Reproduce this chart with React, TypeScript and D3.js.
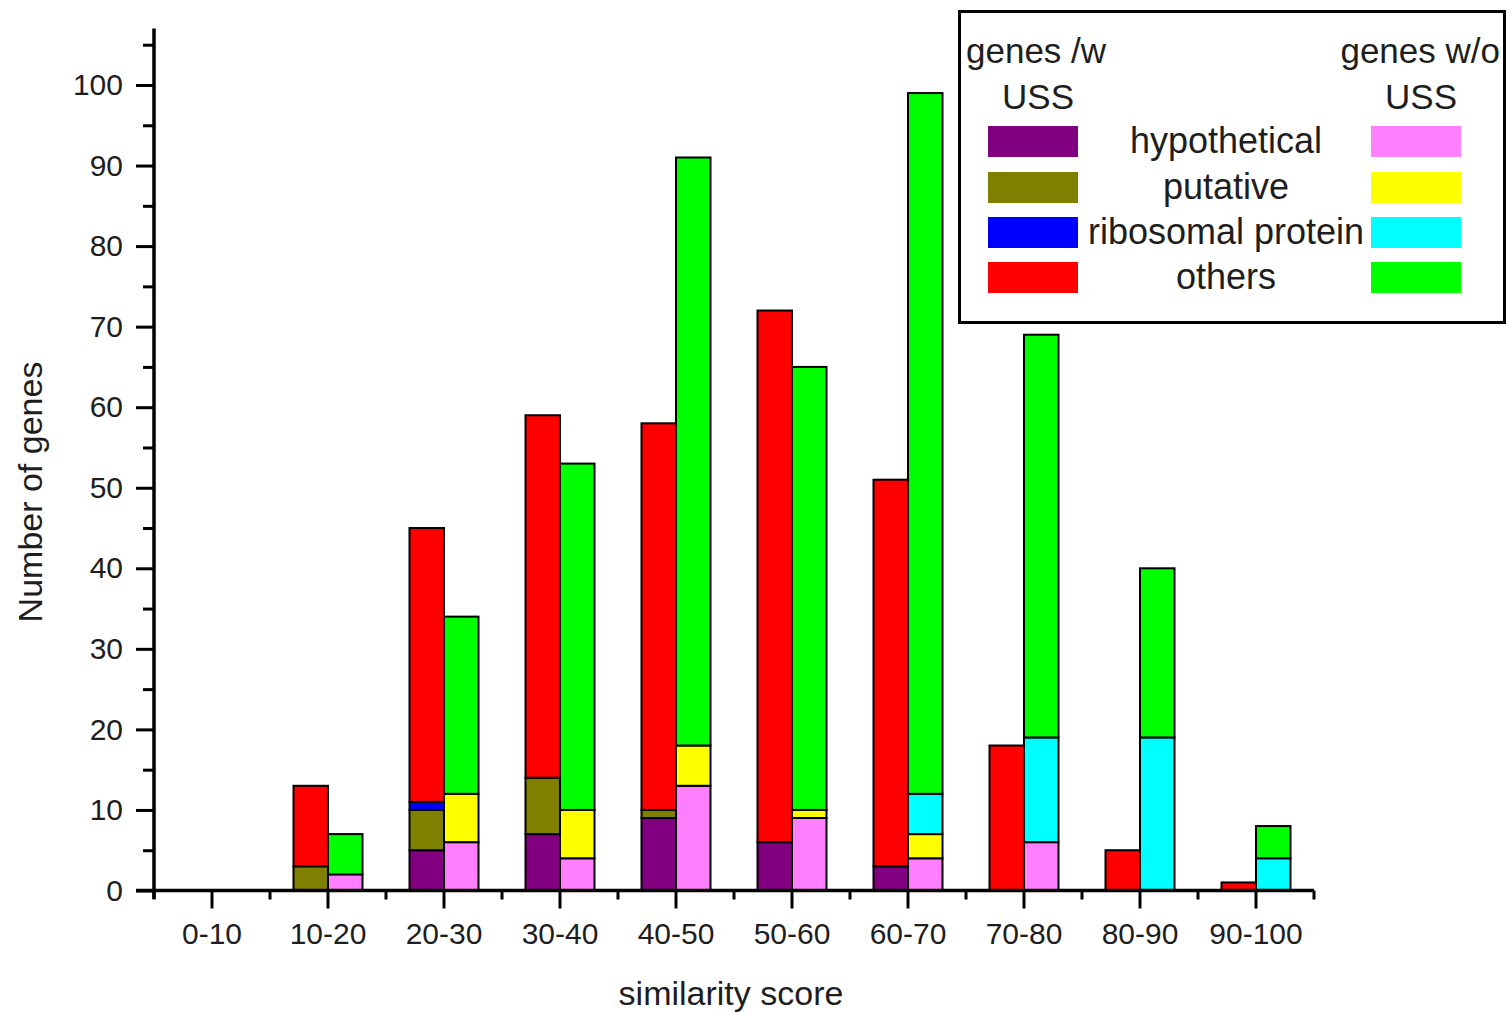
import React, { useEffect, useRef } from "react";
import * as d3 from "d3";

// Similarity-score bins
const categories = ["0-10", "10-20", "20-30", "30-40", "40-50", "50-60", "60-70", "70-80", "80-90", "90-100"];

// Genes with USS, by annotation class
const withHyp = [0, 0, 5, 7, 9, 6, 3, 0, 0, 0];
const withPut = [0, 3, 5, 7, 1, 0, 0, 0, 0, 0];
const withRib = [0, 0, 1, 0, 0, 0, 0, 0, 0, 0];
const withOthers = [0, 10, 34, 45, 48, 66, 48, 18, 5, 1];

// Genes without USS, by annotation class
const withoutHyp = [0, 2, 6, 4, 13, 9, 4, 6, 0, 0];
const withoutPut = [0, 0, 6, 6, 5, 1, 3, 0, 0, 0];
const withoutRib = [0, 0, 0, 0, 0, 0, 5, 13, 19, 4];
const withoutOthers = [0, 5, 22, 43, 73, 55, 87, 50, 21, 4];

const classKeys = ["hyp", "put", "rib", "others"];
const classLabels = ["hypothetical", "putative", "ribosomal protein", "others"];
const withColors = ["#800080", "#808000", "#0000ff", "#ff0000"];
const withoutColors = ["#ff80ff", "#ffff00", "#00ffff", "#00ff00"];

const yTicks = [0, 10, 20, 30, 40, 50, 60, 70, 80, 90, 100];
const yMinorTicks = [5, 15, 25, 35, 45, 55, 65, 75, 85, 95, 105];

const FONT = "'Liberation Sans', Arial, Helvetica, sans-serif";
const TEXT = "#1e1e1e";

export default function App() {
  const ref = useRef<SVGSVGElement | null>(null);

  useEffect(() => {
    document.body.style.margin = "0";
    const svg = d3.select(ref.current);
    svg.selectAll("*").remove();

    const x = d3.scaleBand<string>().domain(categories).range([154, 1314]).paddingInner(0).paddingOuter(0);
    const y = d3.scaleLinear().domain([0, 100]).range([890.5, 85]);
    const barW = 34.5;

    const rows = (h: number[], p: number[], r: number[], o: number[]) =>
      categories.map((c, i) => ({ cat: c, hyp: h[i], put: p[i], rib: r[i], others: o[i] }));

    const stack = d3.stack<any>().keys(classKeys);
    const groups = [
      { data: rows(withHyp, withPut, withRib, withOthers), colors: withColors, offset: -barW },
      { data: rows(withoutHyp, withoutPut, withoutRib, withoutOthers), colors: withoutColors, offset: 0 },
    ];

    const plot = svg.append("g");
    groups.forEach((g) => {
      const series = stack(g.data);
      series.forEach((s, si) => {
        plot
          .append("g")
          .attr("fill", g.colors[si])
          .selectAll("rect")
          .data(s.filter((d) => d[1] - d[0] > 0))
          .join("rect")
          .attr("x", (d) => (x(d.data.cat) as number) + x.bandwidth() / 2 + g.offset)
          .attr("width", barW)
          .attr("y", (d) => y(d[1]))
          .attr("height", (d) => y(d[0]) - y(d[1]))
          .attr("stroke", "#000")
          .attr("stroke-width", 2);
      });
    });

    // Y axis: major ticks with labels, minor ticks at the halves
    const yAxis = svg.append("g").attr("transform", "translate(154,0)");
    yAxis.call(
      d3.axisLeft(y).tickValues(yTicks).tickSize(18).tickPadding(13).tickSizeOuter(0).tickFormat(d3.format("d"))
    );
    const yMinor = svg.append("g").attr("transform", "translate(154,0)");
    yMinor.call(d3.axisLeft(y).tickValues(yMinorTicks).tickSize(11).tickSizeOuter(0).tickFormat(() => ""));
    [yAxis, yMinor].forEach((a) => {
      a.select(".domain").remove();
      a.selectAll(".tick line").attr("stroke", "#000").attr("stroke-width", 3);
      a.selectAll(".tick text")
        .attr("font-family", FONT)
        .attr("font-size", 30)
        .attr("fill", TEXT);
    });
    svg
      .append("line")
      .attr("x1", 154)
      .attr("x2", 154)
      .attr("y1", y(107))
      .attr("y2", 899)
      .attr("stroke", "#000")
      .attr("stroke-width", 3.5);

    // X axis: long ticks at bin centres, short ticks at bin edges
    const xAxis = svg.append("g").attr("transform", `translate(0,${y(0)})`);
    xAxis.call(d3.axisBottom(x).tickSize(18).tickPadding(14).tickSizeOuter(0));
    xAxis.select(".domain").remove();
    xAxis.selectAll(".tick line").attr("stroke", "#000").attr("stroke-width", 3);
    xAxis.selectAll(".tick text").attr("font-family", FONT).attr("font-size", 30).attr("fill", TEXT);
    const edges = categories.map((c) => x(c) as number).concat([x.range()[1]]);
    svg
      .append("g")
      .selectAll("line")
      .data(edges)
      .join("line")
      .attr("x1", (d) => d)
      .attr("x2", (d) => d)
      .attr("y1", y(0))
      .attr("y2", y(0) + 9)
      .attr("stroke", "#000")
      .attr("stroke-width", 3);
    svg
      .append("line")
      .attr("x1", 136)
      .attr("x2", 1314)
      .attr("y1", y(0))
      .attr("y2", y(0))
      .attr("stroke", "#000")
      .attr("stroke-width", 3.5);

    // Axis titles
    svg
      .append("text")
      .attr("x", 731)
      .attr("y", 1005)
      .attr("text-anchor", "middle")
      .attr("font-family", FONT)
      .attr("font-size", 34)
      .attr("fill", TEXT)
      .text("similarity score");
    svg
      .append("text")
      .attr("transform", "translate(42,492) rotate(-90)")
      .attr("text-anchor", "middle")
      .attr("font-family", FONT)
      .attr("font-size", 34)
      .attr("fill", TEXT)
      .text("Number of genes");

    // Legend
    const lg = svg.append("g");
    lg.append("rect")
      .attr("x", 959.5)
      .attr("y", 11.5)
      .attr("width", 545)
      .attr("height", 311)
      .attr("fill", "#fff")
      .attr("stroke", "#000")
      .attr("stroke-width", 3);
    const lt = (tx: number, ty: number, s: string, anchor: string) =>
      lg
        .append("text")
        .attr("x", tx)
        .attr("y", ty)
        .attr("text-anchor", anchor)
        .attr("font-family", FONT)
        .attr("font-size", 35)
        .attr("fill", TEXT)
        .text(s);
    lt(966, 63, "genes /w", "start");
    lt(1038, 109, "USS", "middle");
    lt(1500, 63, "genes w/o", "end");
    lt(1421, 109, "USS", "middle");
    const rowY = [126, 172, 217, 262];
    classLabels.forEach((lab, i) => {
      lg.append("rect").attr("x", 988).attr("y", rowY[i]).attr("width", 90).attr("height", 31).attr("fill", withColors[i]);
      lg.append("rect").attr("x", 1371).attr("y", rowY[i]).attr("width", 90).attr("height", 31).attr("fill", withoutColors[i]);
      lg.append("text")
        .attr("x", 1226)
        .attr("y", rowY[i] + 27)
        .attr("text-anchor", "middle")
        .attr("font-family", FONT)
        .attr("font-size", 36)
        .attr("fill", TEXT)
        .text(lab);
    });
  }, []);

  return <svg ref={ref} width={1509} height={1013} style={{ display: "block", background: "#fff" }} />;
}
